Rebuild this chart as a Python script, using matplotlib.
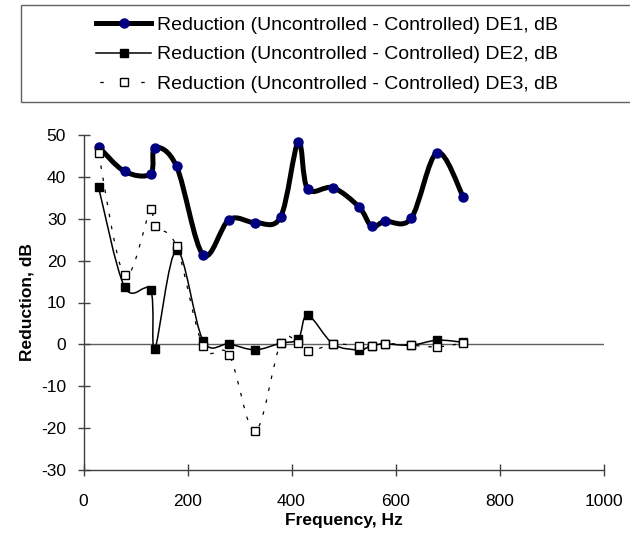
import numpy as np
import matplotlib
matplotlib.use("Agg")
import matplotlib.pyplot as plt
from matplotlib.path import Path
from matplotlib.patches import PathPatch, Rectangle
from matplotlib.lines import Line2D

plt.rcParams['font.family'] = ['Liberation Sans', 'DejaVu Sans']
plt.rcParams['axes.unicode_minus'] = False

# ---- data ----
freq = [29, 79, 129, 137, 179, 230, 280, 330, 379, 413, 431, 480, 530, 554, 580, 630, 680, 730]
de1 = [47.2, 41.3, 40.7, 47.0, 42.5, 21.4, 29.8, 29.1, 30.4, 48.4, 37.1, 37.4, 32.8, 28.2, 29.4, 30.1, 45.8, 35.3]
de2 = [37.5, 13.7, 13.0, -1.1, 22.5, 0.9, 0.1, -1.3, 0.3, 1.3, 7.0, 0.1, -1.3, -0.3, 0.1, -0.2, 1.0, 0.5]
de3 = [45.6, 16.5, 32.4, 28.2, 23.4, -0.5, -2.5, -20.8, 0.3, 0.4, -1.7, 0.0, -0.3, -0.4, 0.2, -0.2, -0.6, 0.3]
labels = ["Reduction (Uncontrolled - Controlled) DE1, dB",
          "Reduction (Uncontrolled - Controlled) DE2, dB",
          "Reduction (Uncontrolled - Controlled) DE3, dB"]
xticks = [0, 200, 400, 600, 800, 1000]
yticks = [-30, -20, -10, 0, 10, 20, 30, 40, 50]


def smooth_path(x, y):
    pts = np.column_stack([x, y]).astype(float)
    n = len(pts)
    verts = [pts[0]]
    codes = [Path.MOVETO]
    for i in range(n - 1):
        p0 = pts[i - 1] if i > 0 else pts[i]
        p1 = pts[i]
        p2 = pts[i + 1]
        p3 = pts[i + 2] if i + 2 < n else pts[i + 1]
        c1 = p1 + (p2 - p0) / 6.0
        c2 = p2 - (p3 - p1) / 6.0
        verts += [c1, c2, p2]
        codes += [Path.CURVE4] * 3
    return Path(verts, codes)


W, H = 630, 539
fig = plt.figure(figsize=(W / 100, H / 100), dpi=100)
ax = fig.add_axes([83.5 / W, 1 - 470 / H, 520 / W, 335 / H])

axis_col = '#404040'
ax.axhline(0, color='#606060', lw=1.0, zorder=1)

dash = (0, (2.8, 7))

# DE1
ax.add_patch(PathPatch(smooth_path(freq, de1), facecolor='none', edgecolor='black',
                       lw=3.6, zorder=2, capstyle='round', joinstyle='round'))
ax.plot(freq, de1, ls='none', marker='o', ms=6.5, mfc='#000080', mec='#000080', zorder=3)
# DE2
ax.add_patch(PathPatch(smooth_path(freq, de2), facecolor='none', edgecolor='black',
                       lw=1.1, zorder=4))
ax.plot(freq, de2, ls='none', marker='s', ms=5.8, mfc='black', mec='black', zorder=5)
# DE3
ax.add_patch(PathPatch(smooth_path(freq, de3), facecolor='none', edgecolor='black',
                       lw=0.9, linestyle=dash, zorder=6))
ax.plot(freq, de3, ls='none', marker='s', ms=5.6, mfc='white', mec='black', mew=1.0, zorder=7)

ax.set_xlim(0, 1000)
ax.set_ylim(-30, 50)
ax.set_xticks(xticks)
ax.set_yticks(yticks)
for s in ['top', 'right']:
    ax.spines[s].set_visible(False)
for s in ['left', 'bottom']:
    ax.spines[s].set_color(axis_col)
    ax.spines[s].set_linewidth(1.0)
ax.tick_params(direction='inout', length=9, width=1.0, color=axis_col, labelsize=12.5)
ax.tick_params(axis='x', pad=13)
ax.tick_params(axis='y', pad=8)
ax.set_xlabel("Frequency, Hz", fontsize=12.5, fontweight='bold', labelpad=3)
ax.set_ylabel("Reduction, dB", fontsize=12.5, fontweight='bold', labelpad=5)

# legend frame
fig.patches.append(Rectangle((21 / W, 1 - 102 / H), (W - 21) / W + 0.01, 97 / H,
                             transform=fig.transFigure, facecolor='white',
                             edgecolor='#606060', lw=1.0, zorder=0))

handles = [
    Line2D([], [], color='black', lw=3.6, marker='o', ms=6.5, mfc='#000080', mec='#000080'),
    Line2D([], [], color='black', lw=1.1, marker='s', ms=5.8, mfc='black', mec='black'),
    Line2D([], [], color='black', lw=0.9, ls=(-3, (2.8, 30)), marker='s', ms=5.6,
           mfc='white', mec='black'),
]
leg = fig.legend(handles, labels, loc='center',
                 bbox_to_anchor=(327 / W, 1 - 54.5 / H),
                 fontsize=14, frameon=False, handlelength=2.85, handletextpad=0.28,
                 labelspacing=0.62, borderaxespad=0, borderpad=0)

fig.savefig("out.png", dpi=100)
